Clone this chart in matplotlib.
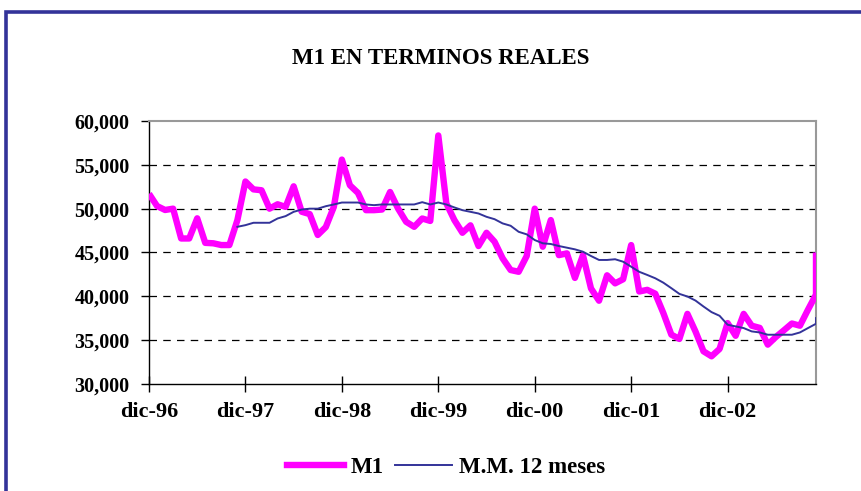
import numpy as np
import matplotlib
matplotlib.use("Agg")
import matplotlib.pyplot as plt
from matplotlib.patches import Rectangle
from matplotlib.lines import Line2D

title = "M1 EN TERMINOS REALES"
tick_labels = ["dic-96", "dic-97", "dic-98", "dic-99", "dic-00", "dic-01", "dic-02"]
y_ticks = [30000, 35000, 40000, 45000, 50000, 55000, 60000]
n_months = 84  # dic-96 .. nov-03 category slots

m1 = [51700, 50300, 49850, 50000, 46600, 46600, 48900, 46100, 46050, 45850, 45850, 48700,
      53100, 52200, 52100, 50000, 50500, 50200, 52550, 49650, 49380, 47000, 47900, 50200,
      55600, 52670, 51800, 49830, 49830, 49900, 51900, 50000, 48500, 47930, 48880, 48600,
      58350, 50600, 48700, 47250, 48100, 45740, 47250, 46230, 44340, 43000, 42800, 44600,
      50000, 45660, 48700, 44700, 44900, 42100, 44700, 40900, 39500, 42400, 41480, 41950,
      45850, 40550, 40740, 40300, 38100, 35630, 35140, 38000, 36000, 33730, 33160, 34000,
      36950, 35500, 38000, 36650, 36400, 34490, 35360, 36120, 36900, 36650, 38470, 40200,
      45000]

ma12 = [np.nan] * 11 + [
      47930, 48120, 48390, 48390, 48390, 48880, 49150, 49640, 49900, 50000, 50000, 50280, 50480,
      50700, 50700, 50700, 50480, 50400, 50480, 50480, 50480, 50480, 50480, 50740, 50480,
      50700, 50480, 50140, 49830, 49640, 49450, 49070, 48800, 48320, 48050, 47360, 47070,
      46420, 46050, 45970, 45740, 45550, 45360, 45090, 44600, 44150, 44150, 44230, 43950,
      43380, 42800, 42440, 42060, 41560, 40930, 40280, 39980, 39520, 38840, 38200, 37780,
      36760, 36570, 36380, 36000, 35880, 35620, 35620, 35620, 35620, 35880, 36380, 36870,
      37520]

x = np.minimum(np.arange(len(m1)), n_months - 1)

plt.rcParams['font.family'] = ['Liberation Serif', 'DejaVu Serif']
plt.rcParams['font.weight'] = 'bold'

fig = plt.figure(figsize=(8.61, 4.91), dpi=100)
fig.patch.set_facecolor('white')

# outer navy frame
fig.patches.append(Rectangle((6 / 861, -0.05), 1.2, 1 - 12 / 491 + 0.05, transform=fig.transFigure,
                             fill=False, edgecolor='#333399', linewidth=2.6))

ax = fig.add_axes([149 / 861, 1 - 384 / 491, (816 - 149) / 861, (384 - 121) / 491])
ax.set_xlim(0, n_months - 1)
ax.set_ylim(30000, 60000)

ax.plot(x, m1, color='#FF00FF', linewidth=4.6, solid_joinstyle='round', solid_capstyle='butt',
        label='M1', zorder=3)
ax.plot(x, ma12, color='#333399', linewidth=1.4, label='M.M. 12 meses', zorder=4)

ax.set_yticks(y_ticks)
ax.set_yticklabels([f"{v:,}" for v in y_ticks])
ax.set_xticks(np.arange(len(tick_labels)) * 12)
ax.set_xticklabels(tick_labels)

for v in y_ticks[1:-1]:
    ax.axhline(v, color='black', linestyle=(0, (6, 5)), linewidth=0.9, zorder=1)

ax.spines['top'].set_color('#999999')
ax.spines['right'].set_color('#999999')
ax.spines['top'].set_linewidth(1.5)
ax.spines['right'].set_linewidth(1.5)
ax.spines['left'].set_linewidth(1.0)
ax.spines['bottom'].set_linewidth(1.0)

ax.tick_params(axis='y', direction='out', length=6, width=1, labelsize=14.5, pad=8)
ax.tick_params(axis='x', direction='inout', length=12, width=1, labelsize=16, pad=7)
for lab in ax.get_xticklabels() + ax.get_yticklabels():
    lab.set_fontweight('bold')

fig.text(441 / 861, 1 - 58 / 491, title, ha='center', va='center', fontsize=16.5,
         fontweight='bold')

handles = [Line2D([], [], color='#FF00FF', linewidth=4.6),
           Line2D([], [], color='#333399', linewidth=1.4)]
fig.legend(handles, ['M1', 'M.M. 12 meses'], loc='center', bbox_to_anchor=(446 / 861, 1 - 467 / 491),
           ncol=2, frameon=False, prop={'size': 16.5, 'weight': 'bold'}, handlelength=2.5,
           columnspacing=0.5, handletextpad=0.3)

fig.savefig('out.png', dpi=100)
